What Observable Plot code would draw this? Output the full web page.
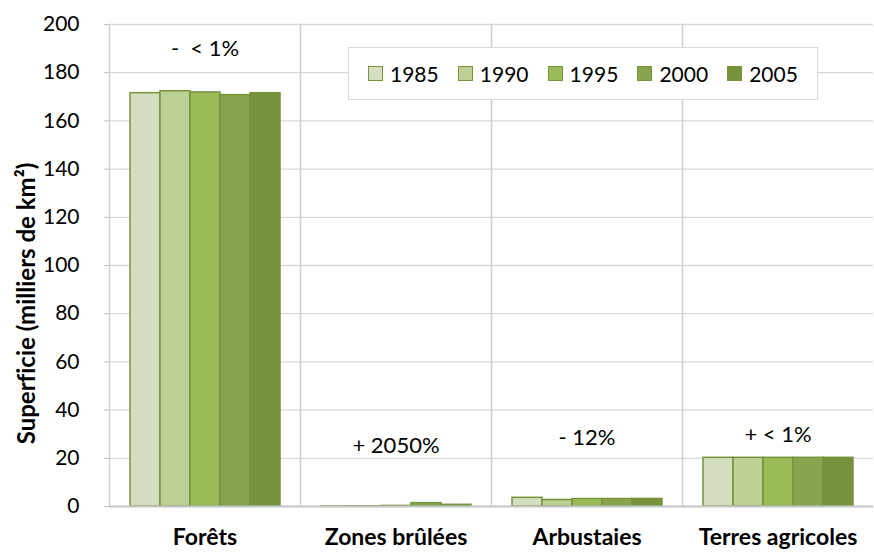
<!DOCTYPE html>
<html>
<head>
<meta charset="utf-8">
<script src="https://cdn.jsdelivr.net/npm/d3@7"></script>
<script src="https://cdn.jsdelivr.net/npm/@observablehq/plot@0.6"></script>
<style>
  html, body { margin: 0; padding: 0; background: #fff; }
  #chart { position: relative; width: 874px; height: 552px; font-family: Lato, "Open Sans", sans-serif; font-variant-ligatures: none; }
  #chart svg text { font-variant-ligatures: none; }
  #legend { position: absolute; left: 348px; top: 47px; width: 470px; height: 53px; box-sizing: border-box;
    border: 1px solid #d9d9d9; background: #fff; display: flex; align-items: center; padding-left: 19px; }
  .item { display: flex; align-items: center; width: 93.5px; font-size: 21px; color: #000; }
  .sw { width: 13px; height: 13px; border: 1.5px solid #77933c; margin-right: 7px; box-sizing: content-box; }
</style>
</head>
<body>
<div id="chart"></div>
<script>
const categories = ["Forêts", "Zones brûlées", "Arbustaies", "Terres agricoles"];
const years = ["1985", "1990", "1995", "2000", "2005"];
const colors = ["#d3dfc0", "#bcd096", "#9bbb59", "#88a54d", "#76923c"];
const foretsValues = [171.5, 172.3, 171.8, 170.7, 171.5];
const bruleesValues = [0.03, 0.08, 0.25, 1.4, 0.7];
const arbustaiesValues = [3.6, 2.7, 3.1, 3.1, 3.15];
const agricolesValues = [20.2, 20.2, 20.2, 20.2, 20.2];
const annotationLabels = ["-\u00a0 < 1%", "+ 2050%", "- 12%", "+ < 1%"];
const annotationY = [190, 25.3, 28.6, 29.5];
const yTicks = [0, 20, 40, 60, 80, 100, 120, 140, 160, 180, 200];

const seriesByCategory = [foretsValues, bruleesValues, arbustaiesValues, agricolesValues];
const data = [];
categories.forEach((c, i) => years.forEach((y, j) => data.push({category: c, year: y, value: seriesByCategory[i][j]})));
const annotations = categories.map((c, i) => ({category: c, label: annotationLabels[i], y: annotationY[i]}));

const plot = Plot.plot({
  width: 874,
  height: 552,
  marginLeft: 108,
  marginRight: 0,
  marginTop: 24,
  marginBottom: 46,
  style: {fontFamily: "Lato, 'Open Sans', sans-serif", fontSize: "21px", color: "#000", background: "#fff"},
  fx: {domain: categories, padding: 0, label: null},
  x: {domain: years, paddingInner: 0, paddingOuter: 0.66, axis: null},
  y: {domain: [0, 200], label: null},
  color: {domain: years, range: colors},
  marks: [
    Plot.gridY(yTicks, {stroke: "#d9d9d9", strokeOpacity: 1, strokeWidth: 1.3}),
    Plot.frame({anchor: "left", stroke: "#d0d0d0", strokeWidth: 1.5}),
    Plot.axisY(yTicks, {tickSize: 5, tickPadding: 25, stroke: "#bfbfbf", fill: "#000", fontSize: 21, tickFormat: d => d}),
    Plot.axisFx({anchor: "bottom", tickSize: 0, tickPadding: 22, fontWeight: "bold", fontSize: 23, fill: "#000", label: null}),
    Plot.barY(data, {fx: "category", x: "year", y: "value", fill: "year", stroke: "#77933c", strokeWidth: 1.5}),
    Plot.ruleY([0], {stroke: "#c8c8c8", strokeWidth: 2}),
    Plot.text(annotations, {fx: "category", y: "y", text: "label", fontSize: 22, fill: "#000"}),
    Plot.text(["Superficie (milliers de km²)"], {fx: ["Forêts"], frameAnchor: "left", textAnchor: "middle", rotate: -90, dx: -82, dy: 38, fontWeight: "bold", fontSize: 24, fill: "#000"})
  ]
});

const chart = document.getElementById("chart");
chart.appendChild(plot);
const legend = document.createElement("div");
legend.id = "legend";
years.forEach((y, i) => {
  const item = document.createElement("div");
  item.className = "item";
  const sw = document.createElement("div");
  sw.className = "sw";
  sw.style.background = colors[i];
  const t = document.createElement("span");
  t.textContent = y;
  item.appendChild(sw);
  item.appendChild(t);
  legend.appendChild(item);
});
chart.appendChild(legend);
</script>
</body>
</html>
